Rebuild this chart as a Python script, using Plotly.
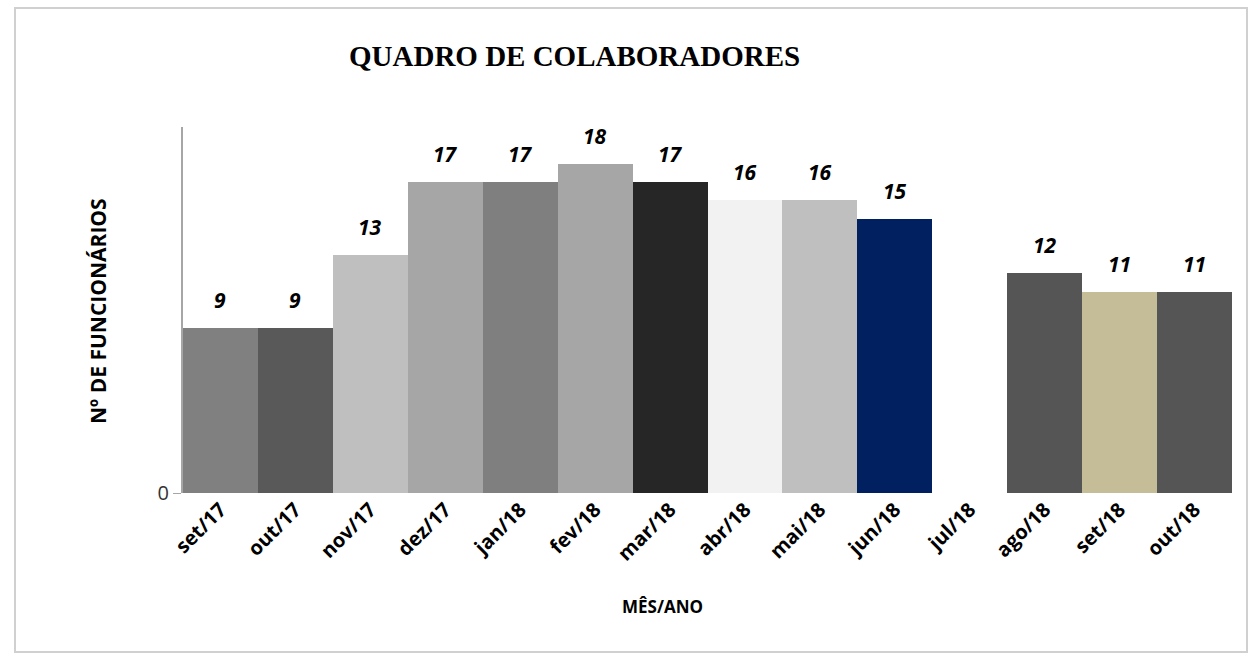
import plotly.graph_objects as go

months = ["set/17", "out/17", "nov/17", "dez/17", "jan/18", "fev/18", "mar/18",
          "abr/18", "mai/18", "jun/18", "jul/18", "ago/18", "set/18", "out/18"]
values = [9, 9, 13, 17, 17, 18, 17, 16, 16, 15, None, 12, 11, 11]
colors = ["#808080", "#595959", "#bfbfbf", "#a6a6a6", "#7f7f7f", "#a6a6a6", "#262626",
          "#f2f2f2", "#bfbfbf", "#002060", "#ffffff", "#555555", "#c4bd97", "#555555"]

W, H = 1252, 656
L, R, T, B = 183, 20, 127, 163
pw, ph = W - L - R, H - T - B

def px_to_paper_x(px):
    return (px - L) / pw

def px_to_paper_y(py):
    return (H - B - py) / ph

SANS = "Open Sans, Lato, sans-serif"

fig = go.Figure()
fig.add_trace(go.Bar(
    x=months, y=values,
    marker=dict(color=colors, line=dict(width=0)),
    hoverinfo="x+y",
))

for m, v in zip(months, values):
    if v is None:
        continue
    fig.add_annotation(
        x=m, y=v, text=f"<b><i>{v}</i></b>", showarrow=False,
        yanchor="bottom", yshift=12,
        font=dict(family=SANS, size=21, color="#000000"),
    )

fig.add_annotation(
    x=px_to_paper_x(574), y=px_to_paper_y(56), xref="paper", yref="paper",
    text="<b>QUADRO DE COLABORADORES</b>", showarrow=False,
    xanchor="center", yanchor="middle",
    font=dict(family="Liberation Serif, serif", size=29, color="#000000"),
)

fig.add_annotation(
    x=px_to_paper_x(662), y=px_to_paper_y(606), xref="paper", yref="paper",
    text="<b>MÊS/ANO</b>", showarrow=False, xanchor="center", yanchor="middle",
    font=dict(family=SANS, size=17, color="#000000"),
)

fig.add_annotation(
    x=px_to_paper_x(98), y=px_to_paper_y(311), xref="paper", yref="paper",
    text="<b>Nº DE FUNCIONÁRIOS</b>", showarrow=False, textangle=-90,
    xanchor="center", yanchor="middle",
    font=dict(family=SANS, size=21, color="#000000"),
)

fig.add_shape(
    type="rect", xref="paper", yref="paper",
    x0=px_to_paper_x(15), x1=px_to_paper_x(1247),
    y0=px_to_paper_y(652), y1=px_to_paper_y(8),
    line=dict(color="#d0d0d0", width=2), fillcolor="rgba(0,0,0,0)", layer="below",
)

fig.update_layout(
    width=W, height=H,
    margin=dict(l=L, r=R, t=T, b=B),
    paper_bgcolor="#ffffff", plot_bgcolor="#ffffff",
    bargap=0, showlegend=False,
    font=dict(family=SANS, color="#000000"),
)
fig.update_xaxes(
    tickangle=-45, showline=False, showgrid=False, ticks="",
    tickfont=dict(family=SANS, size=20, color="#000000", weight="bold"),
)
fig.update_yaxes(
    range=[0, 20], tickvals=[0], ticktext=["0"], showgrid=False, zeroline=False,
    showline=True, linecolor="#a6a6a6", linewidth=2, ticks="outside", ticklen=8,
    tickcolor="#a6a6a6", tickfont=dict(size=20, color="#333333"),
)

fig.write_html("out.html", config={"displayModeBar": False},
               post_script="document.body.style.margin='0px';")
